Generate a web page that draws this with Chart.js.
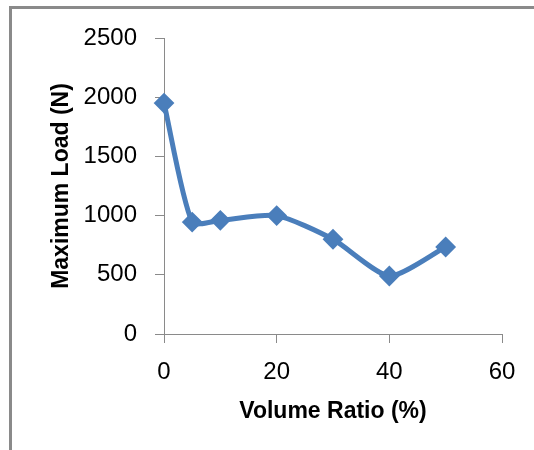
<!DOCTYPE html>
<html lang="en">
  <head>
    <meta charset="utf-8" />
    <title>Maximum Load vs Volume Ratio</title>
    <script src="https://cdn.jsdelivr.net/npm/chart.js@4.4.0/dist/chart.umd.min.js"></script>
    <style>
* {
  padding: 0;
  margin: 0;
  box-sizing: border-box;
}
html, body {
  width: 534px;
  height: 450px;
  background: #ffffff;
  overflow: hidden;
}
#chart {
  display: block;
}
    </style>
  </head>
  <body>
    <canvas id="chart" width="534" height="450"></canvas>

    <script>
      // Volume ratio (%) on x, maximum load (N) on y
      const volumeRatio = [0, 5, 10, 20, 30, 40, 50];
      const maxLoad = [1950, 945, 960, 1000, 800, 490, 735];

      const xTicks = [0, 20, 40, 60];
      const yTicks = [0, 500, 1000, 1500, 2000, 2500];

      const axisGray = "#8a8a8a";
      const seriesBlue = "#4a7ebb";

      const points = volumeRatio.map((v, i) => ({ x: v, y: maxLoad[i] }));

      // gray outer frame of the chart box (only top and left edges show)
      const framePlugin = {
        id: "frame",
        beforeDraw(chart) {
          const ctx = chart.ctx;
          ctx.save();
          ctx.strokeStyle = axisGray;
          ctx.lineWidth = 3;
          ctx.beginPath();
          ctx.moveTo(10.5, chart.height);
          ctx.lineTo(10.5, 7.5);
          ctx.lineTo(chart.width, 7.5);
          ctx.stroke();
          ctx.restore();
        }
      };

      new Chart(document.getElementById("chart"), {
        type: "scatter",
        plugins: [framePlugin],
        data: {
          datasets: [
            {
              data: points,
              showLine: true,
              clip: false,
              borderColor: seriesBlue,
              backgroundColor: seriesBlue,
              borderWidth: 5,
              tension: 0.22,
              pointStyle: "rectRot",
              pointRadius: 9,
              pointBorderWidth: 2,
              pointBackgroundColor: seriesBlue,
              pointBorderColor: seriesBlue
            }
          ]
        },
        options: {
          responsive: false,
          devicePixelRatio: 1,
          animation: false,
          layout: { padding: { left: 48, right: 32, top: 38, bottom: 25 } },
          plugins: {
            legend: { display: false },
            tooltip: { enabled: false }
          },
          scales: {
            x: {
              type: "linear",
              min: xTicks[0],
              max: xTicks[xTicks.length - 1],
              afterBuildTicks: (s) => { s.ticks = xTicks.map((v) => ({ value: v })); },
              afterFit: (s) => { s.height = 91; },
              ticks: {
                color: "#000",
                padding: 15,
                callback: (v) => String(v),
                font: { family: "Liberation Sans", size: 24 }
              },
              grid: { drawOnChartArea: false, tickLength: 9, color: axisGray },
              border: { color: axisGray, width: 1 },
              title: {
                display: true,
                text: "Volume Ratio (%)",
                color: "#000",
                padding: 0,
                font: { family: "Liberation Sans", size: 23, weight: "bold" }
              }
            },
            y: {
              min: yTicks[0],
              max: yTicks[yTicks.length - 1],
              afterBuildTicks: (s) => { s.ticks = yTicks.map((v) => ({ value: v })); },
              afterFit: (s) => { s.width = 116; },
              ticks: {
                color: "#000",
                padding: 18,
                callback: (v) => String(v),
                font: { family: "Liberation Sans", size: 24 }
              },
              grid: { drawOnChartArea: false, tickLength: 9, color: axisGray },
              border: { color: axisGray, width: 1 },
              title: {
                display: true,
                text: "Maximum Load (N)",
                color: "#000",
                padding: 0,
                font: { family: "Liberation Sans", size: 23, weight: "bold" }
              }
            }
          }
        }
      });
    </script>
  </body>
</html>
